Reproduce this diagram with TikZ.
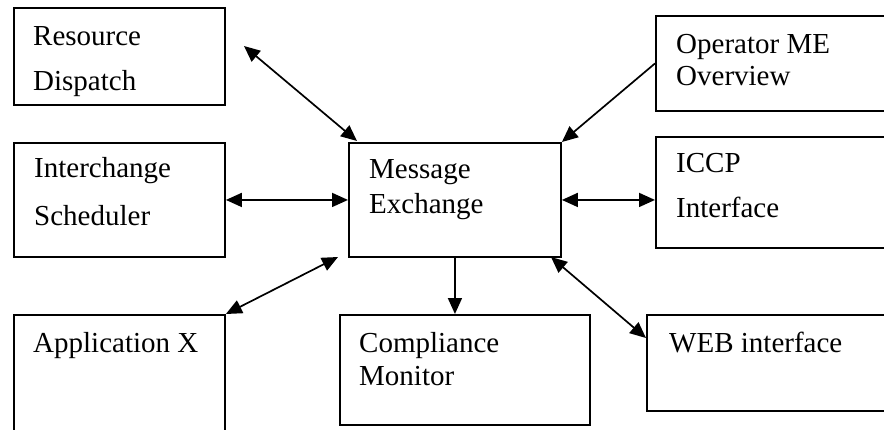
\documentclass[tikz,border=0pt]{standalone}
\usepackage{fontspec}
\setmainfont{Liberation Serif}
\usetikzlibrary{arrows.meta}
\begin{document}
\begin{tikzpicture}[x=1pt,y=-1pt,
  box/.style={draw,line width=1.9pt,inner sep=0pt},
  txt/.style={anchor=base west,inner sep=0pt,font=\fontsize{29}{34}\selectfont},
  link/.style={line width=1.7pt,-{Triangle[length=16pt,width=14pt]}},
  dlink/.style={line width=1.7pt,{Triangle[length=16pt,width=14pt]}-{Triangle[length=16pt,width=14pt]}}]
\useasboundingbox (0,0) rectangle (884,429);
\begin{scope}
\clip (0,0) rectangle (884,429);
% boxes
\node[box,minimum width=211pt,minimum height=97pt,anchor=north west] (RD) at (13,7) {};
\node[box,minimum width=211pt,minimum height=114pt,anchor=north west] (IS) at (13,142) {};
\node[box,minimum width=212pt,minimum height=114pt,anchor=north west] (ME) at (348,142) {};
\node[box,minimum width=240pt,minimum height=95pt,anchor=north west] (OP) at (655,15) {};
\node[box,minimum width=240pt,minimum height=111pt,anchor=north west] (IC) at (655,136) {};
\node[box,minimum width=211pt,minimum height=130pt,anchor=north west] (AX) at (13,314) {};
\node[box,minimum width=250pt,minimum height=110pt,anchor=north west] (CM) at (339,314) {};
\node[box,minimum width=240pt,minimum height=96pt,anchor=north west] (WB) at (646,314) {};
\end{scope}
% texts
\node[txt] (rd1) at (33,45) {Resource};
\node[txt] (rd2) at (33,90) {Dispatch};
\node[txt] (is1) at (34,177) {Interchange};
\node[txt] (is2) at (34,225) {Scheduler};
\node[txt] (me1) at (369,178) {Message};
\node[txt] (me2) at (369,213) {Exchange};
\node[txt] (op1) at (676,53) {Operator ME};
\node[txt] (op2) at (676,85) {Overview};
\node[txt] (ic1) at (676,172) {ICCP};
\node[txt] (ic2) at (676,217) {Interface};
\node[txt] (ax1) at (33,352) {Application X};
\node[txt] (cm1) at (359,352) {Compliance};
\node[txt] (cm2) at (359,385) {Monitor};
\node[txt] (wb1) at (669,352) {WEB interface};
% free ends
\coordinate (rdEnd) at (244,46);
\coordinate (meRD) at (357,141);
\coordinate (meAX) at (338,257);
\coordinate (meWB) at (551,257);
\coordinate (wbEnd) at (646,338);
% connectors
\draw[dlink] (rdEnd) -- (meRD);
\draw[dlink] (IS.east) -- (ME.west);
\draw[link] (OP.west) -- (ME.north east);
\draw[dlink] (ME.east) -- (ME.east -| IC.west);
\draw[dlink] (AX.north east) -- (meAX);
\draw[link] (ME.south) -- (ME.south |- CM.north);
\draw[dlink] (meWB) -- (wbEnd);
\end{tikzpicture}
\end{document}
